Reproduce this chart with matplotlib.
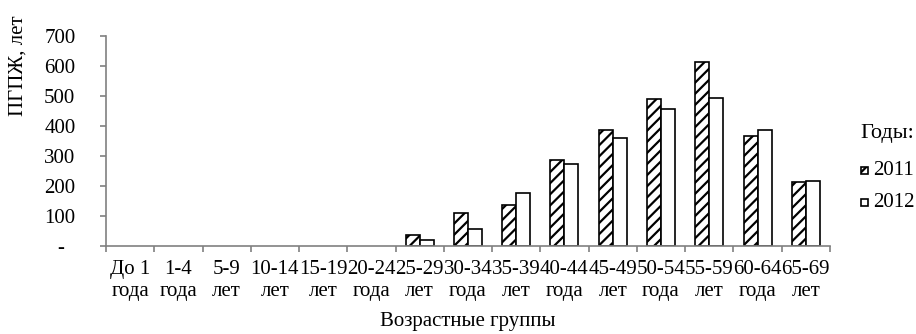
import numpy as np
import matplotlib
matplotlib.use('Agg')
import matplotlib.pyplot as plt
from matplotlib.patches import Rectangle

plt.rcParams['font.family'] = ['Liberation Serif', 'DejaVu Serif']
plt.rcParams['hatch.linewidth'] = 1.6

categories = ['До 1\nгода', '1-4\nгода', '5-9\nлет', '10-14\nлет', '15-19\nлет',
              '20-24\nгода', '25-29\nлет', '30-34\nгода', '35-39\nлет', '40-44\nгода',
              '45-49\nлет', '50-54\nгода', '55-59\nлет', '60-64\nгода', '65-69\nлет']
values_2011 = [0, 0, 0, 0, 0, 0, 37, 108, 136, 286, 385, 490, 613, 366, 213]
values_2012 = [0, 0, 0, 0, 0, 0, 18, 56, 177, 272, 360, 455, 493, 388, 217]
series_names = ['2011', '2012']
yticks = [0, 100, 200, 300, 400, 500, 600, 700]
ytick_labels = ['-  ', '100', '200', '300', '400', '500', '600', '700']


def main():
    fs = 15
    W, H = 916, 334
    fig = plt.figure(figsize=(W / 100, H / 100), dpi=100)
    ax = fig.add_axes([0.1157, 0.264, 0.7903, 0.628])

    x = np.arange(len(categories))
    w = 0.29
    # zero bars are not drawn in the original
    edges_2011 = ['black' if v > 0 else 'none' for v in values_2011]
    edges_2012 = ['black' if v > 0 else 'none' for v in values_2012]
    ax.bar(x - w / 2, values_2011, w, facecolor='white', edgecolor=edges_2011,
           hatch='///', linewidth=1.2)
    ax.bar(x + w / 2, values_2012, w, facecolor='white', edgecolor=edges_2012,
           linewidth=1.2)

    ax.set_xlim(-0.5, len(categories) - 0.5)
    ax.set_ylim(0, 700)
    ax.set_yticks(yticks)
    ax.set_yticklabels(ytick_labels, fontsize=fs)

    # ticks on category boundaries, labels centered
    ax.set_xticks(np.arange(len(categories) + 1) - 0.5)
    ax.set_xticklabels([])
    ax.set_xticks(x, minor=True)
    ax.set_xticklabels(categories, minor=True, fontsize=fs, linespacing=1.25)
    ax.tick_params(axis='x', which='minor', length=0, pad=10)
    ax.tick_params(axis='x', which='major', direction='out', length=4, color='#808080', width=1.2)
    ax.tick_params(axis='y', direction='out', length=4, color='#808080', width=1.2, pad=18)

    for side in ['top', 'right']:
        ax.spines[side].set_visible(False)
    for side in ['left', 'bottom']:
        ax.spines[side].set_color('#808080')
        ax.spines[side].set_linewidth(1.2)

    ax.set_ylabel('ПГПЖ, лет', fontsize=fs)
    ax.yaxis.set_label_coords(-0.109, 0.86)
    ax.set_xlabel('Возрастные группы', fontsize=fs, labelpad=8)

    # legend drawn by hand: small square keys like the original
    fig.text(860 / W, 1 - 138 / H, 'Годы:', fontsize=fs + 1, ha='left', va='baseline')
    key_hatch = ['///', None]
    for i, name in enumerate(series_names):
        base = 175 + 32 * i
        fig.add_artist(Rectangle((861 / W, 1 - (base - 1) / H), 7 / W, 7 / H,
                                 transform=fig.transFigure, facecolor='white',
                                 edgecolor='black', hatch=key_hatch[i], linewidth=1.2))
        fig.text(873 / W, 1 - base / H, name, fontsize=fs, ha='left', va='baseline')

    fig.savefig('out.png', dpi=100)


if __name__ == '__main__':
    main()
